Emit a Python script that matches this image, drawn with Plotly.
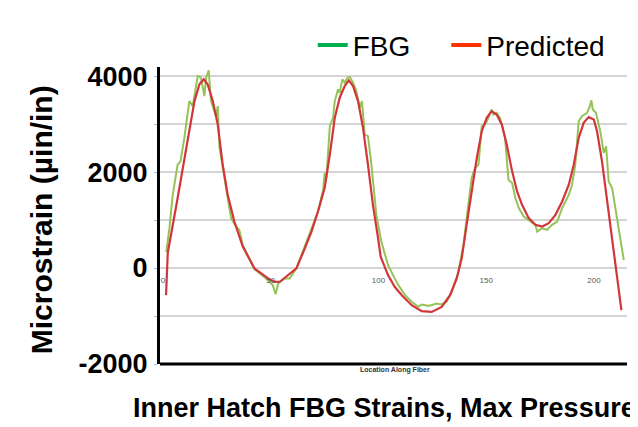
import plotly.graph_objects as go

# ---------------- data ----------------
fbg_x = [1.5, 3, 4.5, 6.8, 8.1, 9.9, 12.2, 13.8, 16.1, 17.6, 19.2, 20, 21.2, 22.3, 24.6, 25.4, 26.2,
         28.5, 31.6, 33.9, 35.4, 37, 39.3, 42.4, 48.6, 50.9, 52.3, 53.4, 56.5, 58.8, 61.9, 65.8,
         68.9, 71.9, 74.3, 75, 75.8, 77.4, 78.9, 79.7, 81.2, 82, 83.2, 84.3, 85.6, 86.7, 88.2,
         89.7, 91.3, 92.3, 93.6, 95.1, 96.7, 99, 101.3, 104.4, 107.5, 109.2, 112.3, 115.4, 118.5,
         120, 123.1, 127, 129.3, 131.6, 134, 137.1, 139.4, 140.9, 143.2, 144.8, 146.4, 147.9,
         149.5, 151, 152.5, 153.3, 154.8, 156.4, 158.7, 160.3, 162, 163.5, 165.1, 167.4, 169.7,
         172.8, 173.6, 175.9, 178.2, 180.5, 182.9, 185.2, 188.3, 189.8, 191.3, 192.9, 194.4,
         196.7, 197.8, 198.8, 199.4, 200.9, 202.9, 204.5, 205.6, 206.8, 208.4, 210.7, 213.8]
fbg_y = [330, 837, 1527, 2155, 2224, 2713, 3480, 3375, 4003, 3968, 3584, 3968, 4121, 3480, 3166, 3375, 2510,
         1877, 1040, 865, 795, 481, 272, -21, -251, -356, -544, -321, -216, -216, -7, 446,
         795, 1178, 1632, 1981, 1877, 2957, 3131, 3480, 3724, 3654, 3933, 3863, 3968, 3980, 3863,
         3690, 3340, 3480, 2782, 2748, 2155, 1109, 551, 63, -216, -356, -565, -704, -809,
         -760, -788, -739, -760, -704, -495, -77, 481, 1040, 1877, 2085, 2155, 2957,
         2992, 3131, 3305, 3200, 3235, 3131, 2713, 1841, 1771, 1458, 1249, 1075, 1005,
         900, 760, 830, 795, 900, 969, 1249, 1527, 1736, 2155, 3062, 3166,
         3235, 3340, 3494, 3305, 3235, 2852, 2399, 2538, 1806, 1667, 1040, 167]

pred_x = [1.4, 2.2, 6.8, 11.5, 14.6, 16.9, 18.9, 20.7, 23.1, 25.4, 27.7, 30, 33.1, 37, 42.4, 48.6,
          51.8, 54.2, 58, 61.9, 65.8, 68.9, 71.9, 75, 77.4, 79.7, 82, 84.3, 86.2, 88.2, 90.5,
          92.8, 95.1, 97.4, 99.8, 101, 104.4, 107.5, 110.8, 115.4, 120, 124.7, 129.3, 133.2,
          136.3, 138.6, 140.9, 143.2, 145.6, 147.9, 150.2, 152.5, 154.8, 157.2, 159.5, 162,
          164.3, 166.6, 169.7, 172.8, 175.9, 179, 182.1, 185.2, 188.3, 190.6, 192.9, 195.2,
          197.5, 199.9, 201.4, 203.7, 206, 208.4, 210.7, 212.7]
pred_y = [-565, 314, 1464, 2720, 3480, 3830, 3933, 3830, 3480, 2990, 2155, 1527, 969, 446, -7, -210,
          -290, -286, -146, -7, 411, 760, 1178, 1667, 2364, 3131, 3550, 3793, 3912, 3793, 3480,
          2922, 2155, 1318, 621, 237, -146, -390, -565, -774, -900, -914, -809, -565,
          -216, 202, 900, 1597, 2294, 2852, 3131, 3270, 3200, 2992, 2573, 2015,
          1597, 1318, 1040, 900, 865, 934, 1109, 1388, 1736, 2155, 2713, 3027,
          3145, 3096, 2852, 2224, 1458, 621, -146, -879]

y_ticks = [-2000, -1000, 0, 1000, 2000, 3000, 4000]
y_ticktext = ["-2000", "", "0", "", "2000", "", "4000"]
x_ticks = [0, 50, 100, 150, 200]
series_names = ["FBG", "Predicted"]

FONT = "Liberation Sans, Arial, sans-serif"
Y_RANGE = [-2000, 4190]
# ---------------- figure ----------------
fig = go.Figure()
fig.add_trace(go.Scatter(x=fbg_x, y=fbg_y, mode="lines", line=dict(color="#94c457", width=2),
                         showlegend=False, hoverinfo="skip"))
fig.add_trace(go.Scatter(x=pred_x, y=pred_y, mode="lines", line=dict(color="#d2363a", width=2.2),
                         showlegend=False, hoverinfo="skip"))
# legend entries (slide-style colours), one legend each
fig.add_trace(go.Scatter(x=[None], y=[None], mode="lines", name=series_names[0],
                         line=dict(color="#00b050", width=4), legend="legend"))
fig.add_trace(go.Scatter(x=[None], y=[None], mode="lines", name=series_names[1],
                         line=dict(color="#ff3300", width=4), legend="legend2"))

leg_common = dict(orientation="h", xanchor="left", yanchor="middle", y=1.073,
                  font=dict(size=28, family=FONT, color="black"),
                  bgcolor="rgba(0,0,0,0)", itemwidth=30)

# the page adds an 8px body margin, so the figure is 8px smaller than the window
fig.update_layout(
    width=630, height=419,
    margin=dict(l=152, r=11, t=59, b=63, autoexpand=False),
    paper_bgcolor="white", plot_bgcolor="white",
    font=dict(family=FONT, color="black"),
    showlegend=True,
    legend=dict(x=0.327, **leg_common),
    legend2=dict(x=0.613, **leg_common),
    xaxis=dict(range=[-1.4, 215.3], anchor="free",
               position=(0 - Y_RANGE[0]) / (Y_RANGE[1] - Y_RANGE[0]),
               tickvals=x_ticks, showgrid=False, zeroline=False, showline=False,
               ticks="outside", ticklen=4, tickcolor="rgba(0,0,0,0)", automargin=False,
               tickfont=dict(size=8, color="#595959", family=FONT)),
    yaxis=dict(range=Y_RANGE, tickvals=y_ticks, ticktext=y_ticktext, automargin=False,
               showgrid=True, gridcolor="#d4d4d4", gridwidth=1.5, zeroline=False,
               showline=True, linecolor="black", linewidth=3,
               ticks="outside", ticklen=3, tickcolor="#a9c1e0",
               tickfont=dict(size=27, family=FONT, color="black", weight="bold"),
               ticklabelstandoff=1),
)

# bottom frame line
fig.add_shape(type="line", xref="paper", yref="paper", x0=0, x1=1, y0=0, y1=0,
              line=dict(color="black", width=3))

fig.add_annotation(text="Microstrain (\u00b5in/in)", xref="paper", yref="paper", x=-0.252, y=0.485,
                   textangle=-90, showarrow=False, xanchor="center", yanchor="middle",
                   font=dict(size=30, family=FONT, color="black", weight="bold"))
fig.add_annotation(text="Inner Hatch FBG Strains, Max Pressure", xref="paper", yref="paper",
                   x=0.481, y=-0.148, showarrow=False, xanchor="center", yanchor="middle",
                   font=dict(size=27, family=FONT, color="black", weight="bold"))
fig.add_annotation(text="Location Along Fiber", xref="paper", yref="paper",
                   x=0.503, y=-0.02, showarrow=False, xanchor="center", yanchor="middle",
                   font=dict(size=7, family=FONT, color="#333333", weight="bold"))

fig.write_html("out.html")
